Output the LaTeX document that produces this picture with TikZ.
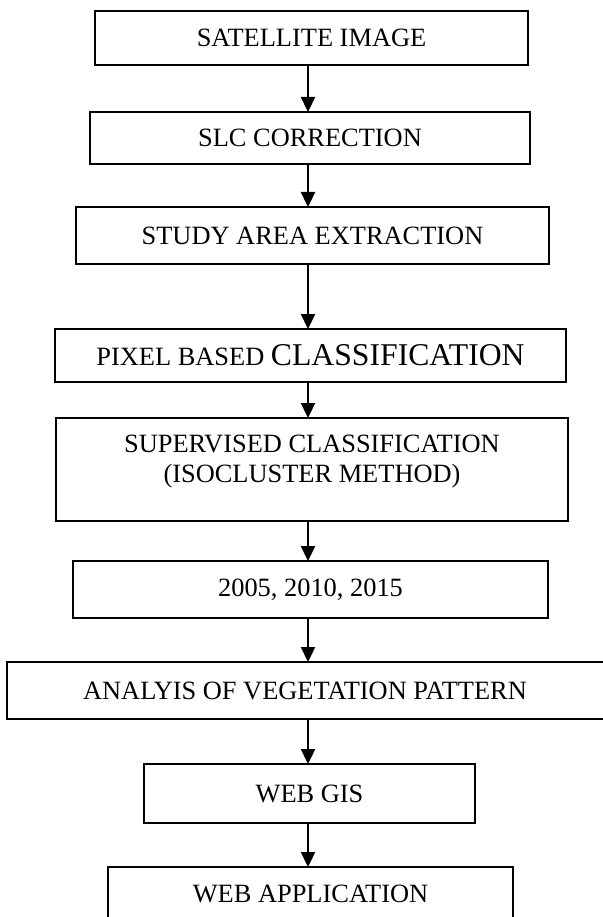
\documentclass[tikz,border=0pt]{standalone}
\usepackage{fontspec}
\setmainfont{Liberation Serif}
\usetikzlibrary{arrows.meta}
\begin{document}
\begin{tikzpicture}[x=1pt,y=-1pt,
  flowbox/.style={draw=black, line width=2.3pt, inner sep=0pt, outer sep=0pt, align=center,
    font=\fontsize{26.4}{30}\selectfont},
  txt/.style={inner sep=0pt, outer sep=0pt, align=center, font=\fontsize{26.4}{30}\selectfont},
  arr/.style={line width=2.3pt, -{Triangle[width=14pt,length=15pt]}}]
\useasboundingbox (0,0) rectangle (602,917);
\coordinate (ax) at (308,0);
\node[flowbox, minimum width=433, minimum height=54] (b1) at (311.5,38) {SATELLITE IMAGE};
\node[flowbox, minimum width=440, minimum height=52] (b2) at (310,138) {SLC CORRECTION};
\node[flowbox, minimum width=473, minimum height=57] (b3) at (312.5,235.5) {STUDY AREA EXTRACTION};
\node[flowbox, minimum width=511, minimum height=53] (b4) at (310.5,355.5) {PIXEL BASED {\fontsize{31.7}{34}\selectfont CLASSIFICATION}};
\node[flowbox, minimum width=512, minimum height=103] (b5) at (312,469.5) {};
\node[txt] (t5) at (312,462) {SUPERVISED CLASSIFICATION\\(ISOCLUSTER METHOD)};
\node[flowbox, minimum width=475, minimum height=57] (b6) at (310.5,589.5) {2005, 2010, 2015};
\node[flowbox, minimum width=600, minimum height=57] (b7) at (307,690.5) {};
\node[txt] (t7) at (305,690.5) {ANALYIS OF VEGETATION PATTERN};
\node[flowbox, minimum width=331, minimum height=59] (b8) at (309.5,793.5) {WEB GIS};
\node[flowbox, minimum width=405, minimum height=58] (b9) at (310.5,896) {};
\node[txt] (t9) at (310.5,894) {WEB APPLICATION};
\draw[arr] (b1.south -| ax) -- (b2.north -| ax);
\draw[arr] (b2.south -| ax) -- (b3.north -| ax);
\draw[arr] (b3.south -| ax) -- (b4.north -| ax);
\draw[arr] (b4.south -| ax) -- (b5.north -| ax);
\draw[arr] (b5.south -| ax) -- (b6.north -| ax);
\draw[arr] (b6.south -| ax) -- (b7.north -| ax);
\draw[arr] (b7.south -| ax) -- (b8.north -| ax);
\draw[arr] (b8.south -| ax) -- (b9.north -| ax);
\end{tikzpicture}
\end{document}
